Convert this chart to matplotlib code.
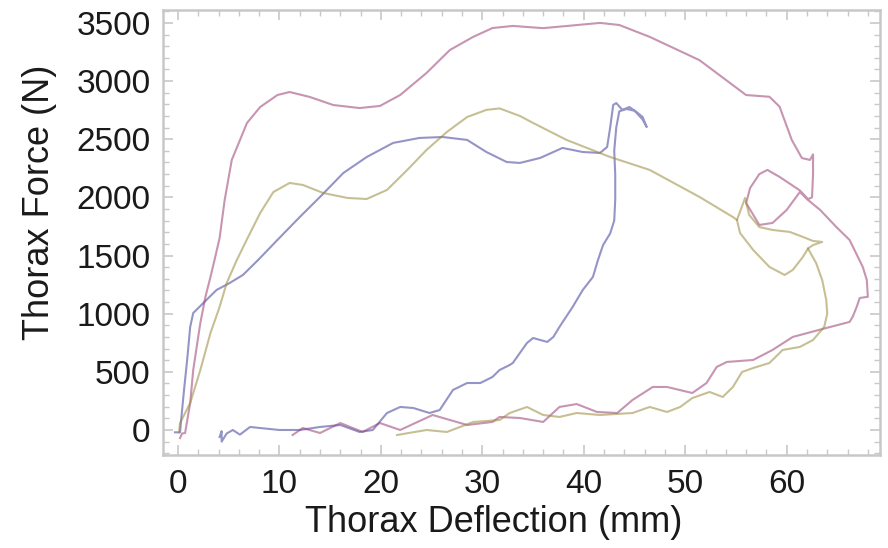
import numpy as np
import matplotlib
matplotlib.use("Agg")
import matplotlib.pyplot as plt
from matplotlib.ticker import MultipleLocator

plt.rcParams['font.family'] = ['Liberation Sans', 'DejaVu Sans']

# Thorax force-deflection curves (mm, N)
blue_x = [-0.3, 0.2, 0.3, 0.6, 0.9, 1.2, 1.5, 2.5, 3.8, 5.1, 6.4, 7.9, 9.8, 12.0, 14.0, 16.3,
          18.6, 21.2, 23.8, 26.1, 28.5, 30.4, 32.4, 33.7, 35.7, 37.9, 39.9, 41.6, 42.3, 42.6,
          42.9, 43.2, 43.8, 44.5, 45.2, 45.8, 46.2, 45.8, 45.0, 44.2, 43.5, 43.2, 43.0, 43.1,
          43.1, 43.0, 42.6, 41.9, 41.4, 40.9, 39.9, 38.9, 37.6, 37.0, 36.4, 35.0, 34.4, 33.7, 33.0,
          32.7, 31.7, 31.0, 29.8, 28.5, 27.1, 25.8, 24.8, 23.2, 21.9, 20.6, 19.2, 17.9, 16.0,
          14.0, 12.0, 10.0, 8.1, 7.1, 6.1, 5.4, 4.8, 4.3, 4.3, 4.1]
blue_y = [-20, -20, 80, 350, 602, 886, 1006, 1092, 1204, 1264, 1333, 1462, 1634, 1831, 2004, 2210,
          2347, 2468, 2511, 2519, 2494, 2390, 2304, 2296, 2339, 2425, 2390, 2382, 2433, 2600,
          2795, 2811, 2752, 2777, 2734, 2691, 2605, 2670, 2745, 2760, 2740, 2600, 2400, 2200,
          1978, 1800, 1690, 1590, 1462, 1316, 1204, 1058, 886, 800, 757, 791, 748, 662, 576,
          559, 516, 456, 404, 404, 344, 172, 146, 189, 198, 146, 0, -17, 43,
          26, 0, 0, 17, 26, -40, 0, -30, -100, -10, -60]

red_x = [0.2, 0.4, 0.7, 1.2, 1.5, 1.9, 2.2, 2.7, 3.2, 3.6, 4.1, 4.6, 5.3, 6.8, 8.1, 9.8, 11.0,
         13.0, 15.3, 17.9, 19.9, 21.9, 24.5, 26.8, 29.1, 31.0, 33.0, 36.0, 38.5, 41.6, 43.5,
         46.5, 51.4, 56.0, 58.3, 59.3, 60.5, 61.5, 62.3, 62.6, 62.6, 62.5, 62.1, 61.3, 59.3,
         58.1, 57.3, 56.4, 56.0, 57.3, 58.6, 60.0, 61.3, 62.1, 63.3, 64.9, 66.2, 67.5, 67.9,
         68.0, 67.2, 66.9, 66.5, 66.2, 63.9, 60.6, 58.6, 56.7, 54.1, 53.1, 52.1, 50.7, 48.2,
         46.8, 44.8, 43.3, 41.3, 39.3, 37.6, 36.0, 33.7, 31.7, 31.0, 28.5, 25.1, 21.9, 19.9,
         18.2, 16.0, 14.0, 12.3, 11.3]
red_y = [-69, -30, -26, 232, 516, 748, 920, 1144, 1316, 1462, 1650, 1978, 2322, 2640, 2777, 2880, 2906,
         2863, 2794, 2768, 2786, 2880, 3070, 3267, 3380, 3456, 3474, 3455, 3475, 3500, 3482,
         3380, 3180, 2880, 2865, 2780, 2494, 2338, 2322, 2370, 2200, 2000, 1985, 2060, 2176,
         2236, 2200, 2081, 1952, 1763, 1780, 1892, 2046, 1978, 1892, 1745, 1634, 1402, 1290,
         1145, 1135, 1058, 972, 929, 877, 800, 688, 602, 585, 542, 404, 318, 370,
         370, 258, 146, 155, 223, 198, 69, 103, 112, 69, 43, 129, 0, 60,
         -17, 60, -26, 17, -43]

olive_x = [0.1, 0.2, 1.2, 2.2, 3.2, 4.1, 4.8, 5.8, 6.8, 8.1, 9.4, 11.0, 12.3, 14.3, 16.7, 18.6,
           20.6, 22.6, 24.5, 26.5, 28.5, 30.4, 31.7, 33.7, 35.0, 38.3, 42.6, 46.5, 51.4, 54.7,
           55.1, 55.9, 56.3, 57.3, 58.6, 60.3, 61.6, 62.6, 63.5, 62.6, 62.1, 62.9, 63.5, 63.9,
           64.0, 63.7, 62.6, 61.3, 59.6, 58.3, 56.7, 55.6, 54.7, 53.7, 52.4, 50.7, 49.5, 48.2,
           46.5, 44.8, 41.6, 39.3, 37.6, 36.0, 34.4, 32.7, 31.7, 29.1, 26.5, 24.5, 21.6]
olive_y = [-20, 60, 232, 516, 834, 1058, 1264, 1462, 1640, 1866, 2046, 2124, 2107, 2038, 1995, 1986,
           2064, 2236, 2408, 2562, 2691, 2752, 2765, 2700, 2640, 2494, 2347, 2236, 2004, 1831,
           1806, 1995, 1850, 1745, 1720, 1703, 1660, 1625, 1617, 1590, 1560, 1436, 1290, 1118,
           1000, 886, 774, 714, 688, 576, 533, 499, 370, 284, 327, 275, 198, 155,
           198, 146, 129, 146, 112, 129, 198, 146, 86, 69, -17, 0, -43]

# small lower loop of the olive curve near 55-62 mm
olive_loop_x = [55.1, 55.4, 56.7, 58.3, 59.8, 60.6, 61.6, 62.1]
olive_loop_y = [1806, 1694, 1548, 1402, 1333, 1376, 1488, 1560]

c_blue = (0.24, 0.24, 0.6)
c_red = (0.6, 0.24, 0.4428)
c_olive = (0.6, 0.547, 0.24)

fig = plt.figure(figsize=(8.88, 5.48), dpi=100)
ax = fig.add_axes([163/888, 1-455/548, (880-163)/888, (455-10)/548])

lw, al = 1.5, 0.55
ax.plot(blue_x, blue_y, color=c_blue, lw=lw, alpha=al)
ax.plot(red_x, red_y, color=c_red, lw=lw, alpha=al)
ax.plot(olive_x, olive_y, color=c_olive, lw=lw, alpha=al)
ax.plot(olive_loop_x, olive_loop_y, color=c_olive, lw=lw, alpha=al)

ax.set_xlim(-1.48, 69.2)
ax.set_ylim(-215, 3611)

ax.xaxis.set_major_locator(MultipleLocator(10))
ax.xaxis.set_minor_locator(MultipleLocator(2))
ax.yaxis.set_major_locator(MultipleLocator(500))
ax.yaxis.set_minor_locator(MultipleLocator(100))

gray = '#c8c8c8'
for s in ax.spines.values():
    s.set_color(gray)
    s.set_linewidth(1.8)
ax.tick_params(which='both', direction='in', top=True, right=True, color=gray,
               labelsize=24, labelcolor='#1a1a1a')
ax.tick_params(which='major', length=7, width=1.2)
ax.tick_params(which='minor', length=4, width=1.0)
ax.tick_params(axis='x', pad=10)
ax.tick_params(axis='y', pad=9)

ax.set_xlabel('Thorax Deflection (mm)', fontsize=26, color='#1a1a1a')
ax.set_ylabel('Thorax Force (N)', fontsize=26, color='#1a1a1a')
ax.xaxis.set_label_coords((494-163)/717, (455-505)/445)
ax.yaxis.set_label_coords((57-163)/717, (455-202)/445)

fig.savefig('out.png', dpi=100)
